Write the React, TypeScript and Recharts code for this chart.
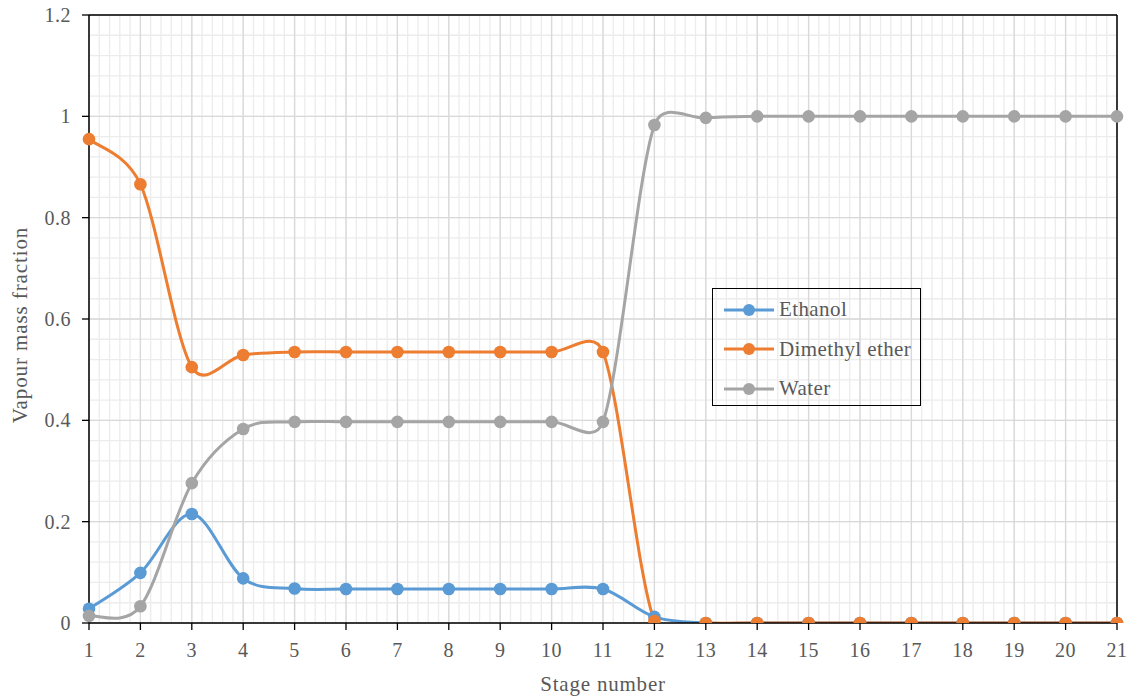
import React from 'react'
import {
  LineChart,
  Line,
  XAxis,
  YAxis,
  CartesianGrid,
  Legend,
  ReferenceLine,
} from 'recharts'

const stages = [1, 2, 3, 4, 5, 6, 7, 8, 9, 10, 11, 12, 13, 14, 15, 16, 17, 18, 19, 20, 21]
const ethanol = [0.028, 0.099, 0.215, 0.088, 0.068, 0.067, 0.067, 0.067, 0.067, 0.067, 0.067, 0.012, 0, 0, 0, 0, 0, 0, 0, 0, 0]
const dimethylEther = [0.955, 0.866, 0.505, 0.529, 0.535, 0.535, 0.535, 0.535, 0.535, 0.535, 0.535, 0.004, 0, 0, 0, 0, 0, 0, 0, 0, 0]
const water = [0.014, 0.033, 0.276, 0.383, 0.397, 0.397, 0.397, 0.397, 0.397, 0.397, 0.397, 0.983, 0.997, 1, 1, 1, 1, 1, 1, 1, 1]

const yTicks = [0, 0.2, 0.4, 0.6, 0.8, 1, 1.2]

// minor gridlines: 5 per stage, 5 per 0.2
const minorX: number[] = []
for (let i = 0; i <= 100; i++) minorX.push(Math.round((1 + i * 0.2) * 100) / 100)
const minorY: number[] = []
for (let i = 0; i <= 30; i++) minorY.push(Math.round(i * 0.04 * 1000) / 1000)

const series = [
  { key: 'ethanol', name: 'Ethanol', color: '#5B9BD5' },
  { key: 'dme', name: 'Dimethyl ether', color: '#ED7D31' },
  { key: 'water', name: 'Water', color: '#A5A5A5' },
]

const data = stages.map((s, i) => ({
  stage: s,
  ethanol: ethanol[i],
  dme: dimethylEther[i],
  water: water[i],
}))

const FONT = '"Liberation Serif", "Times New Roman", serif'
const TEXT = '#595959'

// excel-like smoothing: catmull-rom arms, capped at half the segment length
function smoothCurve(context: any) {
  let pts: [number, number][] = []
  const k = 1 / 6
  const cap = (ax: number, ay: number, lim: number) => {
    const len = Math.hypot(ax, ay)
    if (len > lim && len > 0) return [(ax * lim) / len, (ay * lim) / len]
    return [ax, ay]
  }
  return {
    areaStart() {},
    areaEnd() {},
    lineStart() {
      pts = []
    },
    point(x: number, y: number) {
      pts.push([+x, +y])
    },
    lineEnd() {
      if (!pts.length) return
      context.moveTo(pts[0][0], pts[0][1])
      for (let i = 0; i < pts.length - 1; i++) {
        const p0 = pts[i - 1] || pts[i]
        const p1 = pts[i]
        const p2 = pts[i + 1]
        const p3 = pts[i + 2] || p2
        const seg = Math.hypot(p2[0] - p1[0], p2[1] - p1[1]) * 0.5
        const a = cap((p2[0] - p0[0]) * k, (p2[1] - p0[1]) * k, seg)
        const b = cap((p3[0] - p1[0]) * k, (p3[1] - p1[1]) * k, seg)
        context.bezierCurveTo(p1[0] + a[0], p1[1] + a[1], p2[0] - b[0], p2[1] - b[1], p2[0], p2[1])
      }
    },
  }
}

function LegendBox() {
  return (
    <div
      style={{
        width: 209,
        height: 118,
        border: '1.5px solid #000',
        fontFamily: FONT,
        fontSize: 21,
        letterSpacing: 0.4,
        color: TEXT,
        paddingTop: 1,
        boxSizing: 'border-box',
      }}
    >
      {series.map((s) => (
        <div key={s.key} style={{ display: 'flex', alignItems: 'center', height: 39.5, paddingLeft: 10 }}>
          <svg width={52} height={14} style={{ marginRight: 4 }}>
            <line x1={1} y1={7} x2={51} y2={7} stroke={s.color} strokeWidth={3} />
            <circle cx={26} cy={7} r={6} fill={s.color} />
          </svg>
          <span>{s.name}</span>
        </div>
      ))}
    </div>
  )
}

export default function App() {
  return (
    <div style={{ position: 'absolute', left: 0, top: 0, background: '#fff' }}>
      <LineChart width={1135} height={699} data={data} margin={{ top: 15, right: 18, left: 0, bottom: 0 }}>
        <XAxis xAxisId="minor" type="number" dataKey="stage" domain={[1, 21]} ticks={minorX} interval={0} hide />
        <YAxis
          yAxisId="minor"
          type="number"
          dataKey="water"
          domain={[0, 1.2]}
          allowDataOverflow
          ticks={minorY}
          interval={0}
          hide
        />
        <CartesianGrid xAxisId="minor" yAxisId="minor" stroke="#ececec" strokeWidth={1.3} />
        <CartesianGrid stroke="#d9d9d9" strokeWidth={1.3} />
        <XAxis
          dataKey="stage"
          type="number"
          domain={[1, 21]}
          ticks={stages}
          height={76}
          interval={0}
          axisLine={{ stroke: '#000', strokeWidth: 1.5 }}
          tickLine={{ stroke: '#000', strokeWidth: 1.3 }}
          tickSize={7}
          tickMargin={13}
          tick={{ fontFamily: FONT, fontSize: 20, fill: TEXT, letterSpacing: 0.5 }}
          label={({ viewBox }: any) => (
            <text
              x={viewBox.x + viewBox.width / 2}
              y={viewBox.y + 63}
              textAnchor="middle"
              dominantBaseline="middle"
              fontFamily={FONT}
              fontSize={21}
              letterSpacing={0.8}
              fill={TEXT}
            >
              Stage number
            </text>
          )}
        />
        <YAxis
          type="number"
          domain={[0, 1.2]}
          allowDataOverflow
          ticks={yTicks}
          width={89}
          interval={0}
          axisLine={{ stroke: '#000', strokeWidth: 1.5 }}
          tickLine={{ stroke: '#000', strokeWidth: 1.3 }}
          tickSize={7}
          tickMargin={11}
          tick={{ fontFamily: FONT, fontSize: 20, fill: TEXT, letterSpacing: 0.5 }}
          label={({ viewBox }: any) => {
            const cx = viewBox.x + 22
            const cy = viewBox.y + viewBox.height / 2 + 6
            return (
              <text
                x={cx}
                y={cy}
                transform={`rotate(-90, ${cx}, ${cy})`}
                textAnchor="middle"
                dominantBaseline="middle"
                fontFamily={FONT}
                fontSize={21}
                letterSpacing={0.9}
                fill={TEXT}
              >
                Vapour mass fraction
              </text>
            )
          }}
        />
        <ReferenceLine y={1.2} stroke="#000" strokeWidth={1.5} />
        <ReferenceLine x={21} stroke="#000" strokeWidth={1.5} />
        <Legend
          layout="vertical"
          align="center"
          verticalAlign="middle"
          content={() => <LegendBox />}
          wrapperStyle={{ position: 'absolute', left: 712, top: 288, width: 'auto' }}
        />
        {series.map((s) => (
          <Line
            key={s.key}
            dataKey={s.key}
            name={s.name}
            type={smoothCurve as any}
            stroke={s.color}
            strokeWidth={3}
            dot={{ r: 6.3, fill: s.color, stroke: 'none' }}
            activeDot={false}
            isAnimationActive={false}
          />
        ))}
      </LineChart>
    </div>
  )
}
